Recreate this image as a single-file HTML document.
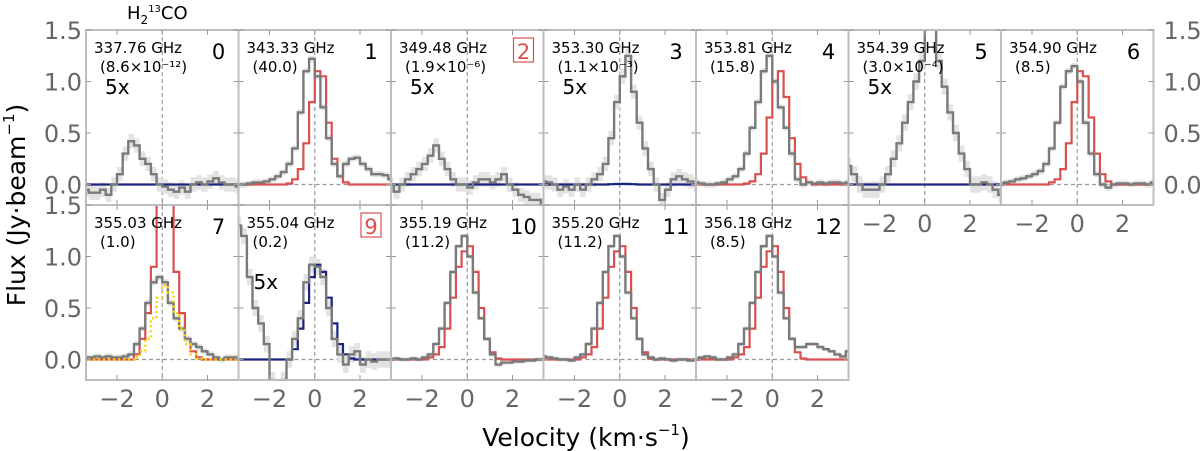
<!DOCTYPE html>
<html><head><meta charset="utf-8"><style>
html,body{margin:0;padding:0;background:#fff;}
svg{display:block;font-family:"DejaVu Sans","Liberation Sans",sans-serif;}
</style></head><body>
<svg id="chart" width="1200" height="451" viewBox="0 0 1200 451" xmlns="http://www.w3.org/2000/svg">
<g id="layer"></g>
</svg>
<script>
const NS='http://www.w3.org/2000/svg';
// channel velocity grid (km/s)
const velocities=[-3.375,-3.125,-2.875,-2.625,-2.375,-2.125,-1.875,-1.625,-1.375,-1.125,-0.875,-0.625,-0.375,-0.125,0.125,0.375,0.625,0.875,1.125,1.375,1.625,1.875,2.125,2.375,2.625,2.875,3.125,3.375];
const panelIds=[0,1,2,3,4,5,6,7,9,10,11,12];
const freqLabels=['337.76 GHz','343.33 GHz','349.48 GHz','353.30 GHz','353.81 GHz','354.39 GHz','354.90 GHz','355.03 GHz','355.04 GHz','355.19 GHz','355.20 GHz','356.18 GHz'];
const subLabels=['(8.6×10⁻¹²)','(40.0)','(1.9×10⁻⁶)','(1.1×10⁻³)','(15.8)','(3.0×10⁻⁴)','(8.5)','(1.0)','(0.2)','(11.2)','(11.2)','(8.5)'];
const boxed=[false,false,true,false,false,false,false,false,true,false,false,false];
const scaled5x=[true,false,true,true,false,true,false,false,true,false,false,false];
const modelType=['blue','red','blue','blue','red','blue','red','red','blue','red','red','red'];
const noiseLevel=[0.07,0.03,0.07,0.07,0.03,0.08,0.03,0.03,0.08,0.02,0.02,0.02];
const yTicks=[0,0.5,1.0,1.5];
const yTickLabels=['0.0','0.5','1.0','1.5'];
const xTicks=[-2,0,2];
const xTickLabels=['−2','0','2'];
// observed spectra
const obs0=[-0.05,-0.08,-0.08,-0.05,-0.1,0.0,0.1,0.3,0.42,0.38,0.25,0.2,0.1,0.0,-0.02,-0.05,-0.07,-0.03,-0.07,0.0,0.02,0.0,0.03,0.06,0.02,0.0,0.0,-0.02];
const obs1=[0,0,0.01,0.02,0.02,0.03,0.05,0.08,0.12,0.2,0.35,0.7,1.1,1.22,1.05,0.75,0.45,0.2,0.08,0.2,0.25,0.26,0.2,0.15,0.1,0.1,0.09,0.05];
const obs2=[0.0,-0.07,0.0,0.05,0.1,0.15,0.2,0.28,0.38,0.25,0.15,0.05,0.0,0.0,-0.03,0.02,0.05,0.05,0.02,0.05,0.1,0.0,-0.05,-0.1,-0.12,-0.15,-0.15,-0.2];
const obs3=[0.03,0.02,0.0,-0.05,-0.02,-0.05,0.0,-0.05,0.0,0.05,0.1,0.2,0.45,0.8,1.05,1.25,0.9,0.6,0.35,0.15,0.0,-0.15,-0.05,0.05,0.08,0.05,0.03,0.0];
const obs4=[0.02,0.01,0.0,0.0,0.01,0.02,0.05,0.08,0.15,0.3,0.55,0.8,1.1,1.25,1.0,0.75,0.55,0.3,0.05,0.0,0.02,0.01,0.02,0.01,0.02,0.02,0.01,0.02];
const obs5=[0.18,0.1,0.0,-0.05,-0.05,-0.05,0.0,0.1,0.25,0.4,0.6,0.8,1.0,1.2,1.6,1.6,1.2,0.95,0.7,0.5,0.3,0.15,0.0,0.0,0.02,0.0,-0.05,-0.1];
const obs6=[0.0,0.02,0.03,0.05,0.06,0.08,0.1,0.13,0.2,0.35,0.6,0.95,1.1,1.15,1.0,0.6,0.3,0.1,0.0,-0.03,0.0,0.01,0.01,0.0,0.01,0.01,0.0,0.02];
const obs7=[0.02,0.02,0.03,0.02,0.03,0.02,0.02,0.03,0.05,0.15,0.3,0.55,0.75,0.8,0.75,0.55,0.4,0.3,0.2,0.15,0.12,0.08,0.05,0.02,0.0,0.02,0.02,0.02];
const obs9=[1.3,1.2,0.8,0.5,0.35,0.15,-0.2,-0.3,-0.2,0.0,0.2,0.4,0.75,0.92,0.9,0.8,0.5,0.2,0.05,-0.05,0.05,0.08,-0.05,0.0,-0.02,0.0,0.0,0.0];
const obs10=[0.0,0.01,0.0,0.0,0.01,0.0,0.02,0.05,0.15,0.3,0.55,0.85,1.1,1.2,1.0,0.65,0.4,0.2,0.05,-0.05,-0.03,-0.03,-0.02,-0.02,-0.01,-0.01,0.0,0.0];
const obs11=[0.03,0.02,0.01,0.0,0.0,-0.01,0.02,0.05,0.15,0.3,0.55,0.85,1.1,1.2,1.0,0.65,0.4,0.2,0.05,0.02,0.0,0.01,0.0,-0.01,0.0,0.0,-0.01,0.0];
const obs12=[0.0,0.02,0.03,0.02,0.0,0.0,0.02,0.05,0.15,0.3,0.55,0.85,1.1,1.2,1.0,0.65,0.4,0.2,0.12,0.12,0.15,0.15,0.12,0.1,0.08,0.05,0.03,0.08];
// models
const mod0=velocities.map(()=>0);
const mod1=[0,0,0,0,0,0,0,0,0,0.01,0.05,0.15,0.4,0.8,1.1,1.05,0.6,0.25,0.08,0.02,0,0,0,0,0,0,0,0];
const mod2=velocities.map(()=>0);
const mod3=[0,0,0,0,0,0,0,0,0,0,0,0,0.003,0.005,0.006,0.005,0.003,0.0,0,0,0,0,0,0,0,0,0,0];
const mod4=[0,0,0,0,0,0,0,0,0,0.01,0.03,0.1,0.3,0.65,1.0,1.1,0.85,0.45,0.2,0.07,0.02,0,0,0,0,0,0,0];
const mod5=velocities.map(()=>0);
const mod6=[0,0,0,0,0,0,0,0,0,0.02,0.05,0.15,0.4,0.8,1.1,1.05,0.65,0.3,0.1,0.03,0,0,0,0,0,0,0,0];
const mod7=[0,0,0,0,0,0,0,0,0,0.05,0.2,0.45,0.9,1.6,1.8,1.6,0.85,0.45,0.2,0.08,0.02,0,0,0,0,0,0,0];
const mod9=[0,0,0,0,0,0,0,0,0,0,0.1,0.3,0.55,0.8,0.92,0.85,0.6,0.35,0.15,0.05,0.01,0,0,0,0,0,0,0];
const mod10=[0,0,0,0,0,0,0,0.02,0.05,0.12,0.3,0.6,0.9,1.05,1.1,0.85,0.5,0.2,0.07,0.01,0,0,0,0,0,0,0,0];
const mod11=[0,0,0,0,0,0,0,0.02,0.05,0.12,0.3,0.6,0.9,1.05,1.1,0.85,0.5,0.2,0.07,0.01,0,0,0,0,0,0,0,0];
const mod12=[0,0,0,0,0,0,0,0.02,0.05,0.12,0.3,0.6,0.9,1.05,1.1,0.85,0.5,0.2,0.07,0.01,0,0,0,0,0,0,0,0];
const yellow7=[0,0,0,0,0,0,0,0,0,0.02,0.08,0.2,0.4,0.6,0.72,0.65,0.45,0.3,0.15,0.05,0.01,0,0,0,0,0,0,0];
const observed=[obs0,obs1,obs2,obs3,obs4,obs5,obs6,obs7,obs9,obs10,obs11,obs12];
const models=[mod0,mod1,mod2,mod3,mod4,mod5,mod6,mod7,mod9,mod10,mod11,mod12];

const PW=152.5, PH=175, X0=86, TOPS=[30,205], VMIN=-3.37, VMAX=3.37, FMAX=1.5, PXU=103;
const layer=document.getElementById('layer');
function mk(tag,attrs,parent){const e=document.createElementNS(NS,tag);for(const k in attrs)e.setAttribute(k,attrs[k]);(parent||layer).appendChild(e);return e;}
function stepPath(vals,sx,sy){let d='';const h=0.125;vals.forEach((f,i)=>{const v=velocities[i];d+=(i===0?'M':'L')+sx(v-h).toFixed(1)+','+sy(f).toFixed(1)+'L'+sx(v+h).toFixed(1)+','+sy(f).toFixed(1);});return d;}
function bandPath(vals,n,sx,sy){let up='',dn='';const h=0.125;vals.forEach((f,i)=>{const v=velocities[i];up+=(i===0?'M':'L')+sx(v-h).toFixed(1)+','+sy(f+n).toFixed(1)+'L'+sx(v+h).toFixed(1)+','+sy(f+n).toFixed(1);});for(let i=vals.length-1;i>=0;i--){const v=velocities[i];dn+='L'+sx(v+h).toFixed(1)+','+sy(vals[i]-n).toFixed(1)+'L'+sx(v-h).toFixed(1)+','+sy(vals[i]-n).toFixed(1);}return up+dn+'Z';}

const defs=mk('defs',{});
panelIds.forEach((pid,k)=>{
  const row=k<7?0:1, col=k<7?k:k-7;
  const L=X0+PW*col, T=TOPS[row];
  const sx=v=>L+(v-VMIN)/(VMAX-VMIN)*PW;
  const sy=f=>T+(FMAX-f)*PXU;
  const cp=mk('clipPath',{id:'cp'+k},defs);
  mk('rect',{x:L,y:T,width:PW,height:PH},cp);
  const g=mk('g',{});
  
  
  const cg=mk('g',{'clip-path':'url(#cp'+k+')'},g);
  const zl=mk('line',{x1:L,x2:L+PW,y1:sy(0),y2:sy(0),stroke:'#999','stroke-width':1.2,'stroke-dasharray':'4,3'},cg);
  
  
  const vl=mk('line',{x1:sx(0),x2:sx(0),y1:T,y2:T+PH,stroke:'#999','stroke-width':1.2,'stroke-dasharray':'4,3'},cg);
  
  
  const band=mk('path',{d:bandPath(observed[k],noiseLevel[k],sx,sy),fill:'#e3e3e3',stroke:'none'},cg);
  
  
  const isBlue=modelType[k]==='blue';
  const mp=mk('path',{d:stepPath(models[k],sx,sy),fill:'none',stroke:isBlue?'#1a237e':'#d9504f','stroke-width':2.2},cg);
  
  
  const op=mk('path',{d:stepPath(observed[k],sx,sy),fill:'none',stroke:'#7a7a7a','stroke-width':2.4},cg);
  
  
  if(pid===7){
    const yp=mk('path',{d:stepPath(yellow7,sx,sy),fill:'none',stroke:'#ffd200','stroke-width':2.5,'stroke-dasharray':'2,3'},cg);
    
    
  }
  const fr=mk('rect',{x:L,y:T,width:PW,height:PH,fill:'none',stroke:'#bdbdbd','stroke-width':2},g);
  
  
  xTicks.forEach(v=>{mk('line',{x1:sx(v),x2:sx(v),y1:T,y2:T+5,stroke:'#999','stroke-width':1},g);mk('line',{x1:sx(v),x2:sx(v),y1:T+PH,y2:T+PH-5,stroke:'#999','stroke-width':1},g);});
  yTicks.forEach(f=>{mk('line',{x1:L,x2:L+5,y1:sy(f),y2:sy(f),stroke:'#999','stroke-width':1},g);mk('line',{x1:L+PW,x2:L+PW-5,y1:sy(f),y2:sy(f),stroke:'#999','stroke-width':1},g);});
  const t1=mk('text',{x:L+8,y:T+23,'font-size':15,fill:'#000'},g);t1.textContent=freqLabels[k];
  
  
  const t2=mk('text',{x:L+14,y:T+42,'font-size':15,fill:'#000'},g);t2.textContent=subLabels[k];
  
  
  const nx=L+PW-20;
  if(boxed[k]){const br=mk('rect',{x:nx-10,y:T+8,width:20,height:24,fill:'none',stroke:'#d9504f','stroke-width':1.2},g);}
  const tn=mk('text',{x:nx,y:T+29,'font-size':21,'text-anchor':'middle',fill:boxed[k]?'#d9504f':'#000'},g);tn.textContent=String(pid);
  
  
  if(scaled5x[k]){const t5=mk('text',{x:L+(pid===9?15:19),y:T+(pid===9?84:64),'font-size':20,fill:'#000'},g);t5.textContent='5x';}
  if(col===0){yTicks.forEach((f,j)=>{const t=mk('text',{x:L-4,y:sy(f)+9,'font-size':24,'text-anchor':'end',fill:'#666'},g);t.textContent=yTickLabels[j];});}
  if(col===6){yTicks.forEach((f,j)=>{const t=mk('text',{x:L+PW+10,y:sy(f)+9,'font-size':24,'text-anchor':'start',fill:'#666'},g);t.textContent=yTickLabels[j];});}
  if(row===1||col>=5){xTicks.forEach((v,j)=>{const t=mk('text',{x:sx(v),y:T+PH+27,'font-size':24,'text-anchor':'middle',fill:'#666'},g);t.textContent=xTickLabels[j];});}
});
</script>
<svg style="position:absolute;left:0;top:0" width="1200" height="451" xmlns="http://www.w3.org/2000/svg">
<text x="127" y="19" font-size="18" font-family="DejaVu Sans, sans-serif">H<tspan font-size="12" dy="5">2</tspan><tspan font-size="10" dy="-12">13</tspan><tspan dy="7">CO</tspan></text>
<text x="586" y="446" font-size="25" text-anchor="middle" font-family="DejaVu Sans, sans-serif">Velocity (km·s<tspan font-size="15" dy="-11">−1</tspan><tspan dy="11">)</tspan></text>
<text transform="translate(25,205) rotate(-90)" font-size="25" text-anchor="middle" font-family="DejaVu Sans, sans-serif">Flux (Jy·beam<tspan font-size="15" dy="-11">−1</tspan><tspan dy="11">)</tspan></text>
</svg>
</body></html>
